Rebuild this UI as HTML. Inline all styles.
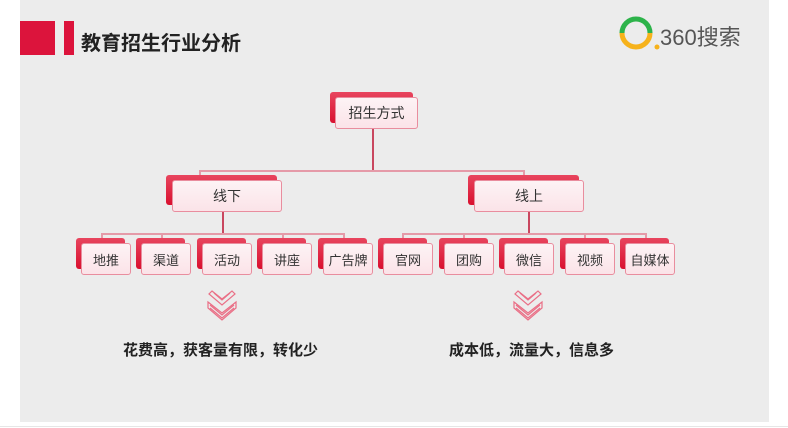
<!DOCTYPE html>
<html><head><meta charset="utf-8"><style>
*{margin:0;padding:0;box-sizing:border-box}
body{width:788px;height:428px;background:#fff;position:relative;overflow:hidden;font-family:"Liberation Sans","Noto Sans CJK SC",sans-serif}
.bg{position:absolute;left:20px;top:0;width:749px;height:422px;background:#ececec}
.a{position:absolute}
.sh{position:absolute;background:linear-gradient(#e8455e,#d9102f);border-radius:3px}
.fr{position:absolute;background:linear-gradient(#fdf3f5,#fbe3e8);border:1.5px solid #e98d9e;border-radius:3px;display:flex;align-items:center;justify-content:center;color:#333;font-size:13px}
.ln{position:absolute;background:#c9475f}
.ln2{position:absolute;background:#e59aa8}
.t{position:absolute;font-weight:bold;font-size:15px;color:#222;white-space:nowrap}
</style></head><body>
<div class="bg"></div>
<div class="a" style="left:20px;top:21px;width:35px;height:34px;background:#dc143c"></div>
<div class="a" style="left:64px;top:21px;width:10px;height:34px;background:#dc143c"></div>
<div class="a" style="left:81px;top:27px;font-size:20px;font-weight:bold;color:#222">教育招生行业分析</div>
<svg class="a" style="left:615px;top:14px" width="50" height="42"><path d="M7 19 A14 14 0 0 1 35 19" fill="none" stroke="#2db34a" stroke-width="5"/><path d="M7 19 A14 14 0 0 0 35 19" fill="none" stroke="#f6b21b" stroke-width="5"/><circle cx="42" cy="33" r="2.5" fill="#f6b21b"/></svg>
<div class="a" style="left:660px;top:20px;font-size:22px;color:#555">360搜索</div>

<div class="ln" style="left:372px;top:128px;width:1.5px;height:43px"></div>
<div class="ln2" style="left:199px;top:170px;width:325px;height:1.5px"></div>
<div class="ln2" style="left:199px;top:170px;width:1.5px;height:8px"></div>
<div class="ln2" style="left:523px;top:170px;width:1.5px;height:8px"></div>
<div class="ln" style="left:222px;top:211px;width:1.5px;height:23px"></div>
<div class="ln" style="left:528px;top:211px;width:1.5px;height:23px"></div>
<div class="ln2" style="left:101px;top:233px;width:243px;height:1.5px"></div>
<div class="ln2" style="left:402px;top:233px;width:244px;height:1.5px"></div>
<div class="ln2" style="left:101px;top:233px;width:1.5px;height:6px"></div>
<div class="ln2" style="left:161px;top:233px;width:1.5px;height:6px"></div>
<div class="ln2" style="left:282px;top:233px;width:1.5px;height:6px"></div>
<div class="ln2" style="left:343px;top:233px;width:1.5px;height:6px"></div>
<div class="ln2" style="left:402px;top:233px;width:1.5px;height:6px"></div>
<div class="ln2" style="left:463px;top:233px;width:1.5px;height:6px"></div>
<div class="ln2" style="left:584px;top:233px;width:1.5px;height:6px"></div>
<div class="ln2" style="left:645px;top:233px;width:1.5px;height:6px"></div>

<div class="sh" style="left:330px;top:92px;width:83px;height:31px"></div>
<div class="fr" style="left:335px;top:97px;width:83px;height:32px;font-size:14px">招生方式</div>

<div class="sh" style="left:166px;top:175px;width:111px;height:30px"></div>
<div class="fr" style="left:172px;top:180px;width:110px;height:32px;font-size:14px">线下</div>
<div class="sh" style="left:468px;top:175px;width:111px;height:30px"></div>
<div class="fr" style="left:474px;top:180px;width:110px;height:32px;font-size:14px">线上</div>

<div class="sh" style="left:76px;top:238px;width:49px;height:31px"></div><div class="fr" style="left:81px;top:243px;width:50px;height:32px">地推</div>
<div class="sh" style="left:136px;top:238px;width:49px;height:31px"></div><div class="fr" style="left:141px;top:243px;width:50px;height:32px">渠道</div>
<div class="sh" style="left:197px;top:238px;width:49px;height:31px"></div><div class="fr" style="left:202px;top:243px;width:50px;height:32px">活动</div>
<div class="sh" style="left:257px;top:238px;width:49px;height:31px"></div><div class="fr" style="left:262px;top:243px;width:50px;height:32px">讲座</div>
<div class="sh" style="left:318px;top:238px;width:49px;height:31px"></div><div class="fr" style="left:323px;top:243px;width:50px;height:32px">广告牌</div>
<div class="sh" style="left:378px;top:238px;width:49px;height:31px"></div><div class="fr" style="left:383px;top:243px;width:50px;height:32px">官网</div>
<div class="sh" style="left:439px;top:238px;width:49px;height:31px"></div><div class="fr" style="left:444px;top:243px;width:50px;height:32px">团购</div>
<div class="sh" style="left:499px;top:238px;width:49px;height:31px"></div><div class="fr" style="left:504px;top:243px;width:50px;height:32px">微信</div>
<div class="sh" style="left:560px;top:238px;width:49px;height:31px"></div><div class="fr" style="left:565px;top:243px;width:50px;height:32px">视频</div>
<div class="sh" style="left:620px;top:238px;width:49px;height:31px"></div><div class="fr" style="left:625px;top:243px;width:50px;height:32px">自媒体</div>

<svg class="a" style="left:207px;top:290px" width="31" height="32"><g fill="none" stroke="#ea6f86" stroke-width="1.2"><path d="M5 1 L15 9 L25 1 L28 4 L15 15 L2 4 Z"/><path d="M7 3 L15 10 L23 3"/><path d="M1 12 L15 23 L29 12 L29 18 L15 30 L1 18 Z"/><path d="M3 15 L15 25 L27 15"/><path d="M3 18 L15 28 L27 18"/></g></svg>
<svg class="a" style="left:513px;top:290px" width="31" height="32"><g fill="none" stroke="#ea6f86" stroke-width="1.2"><path d="M5 1 L15 9 L25 1 L28 4 L15 15 L2 4 Z"/><path d="M7 3 L15 10 L23 3"/><path d="M1 12 L15 23 L29 12 L29 18 L15 30 L1 18 Z"/><path d="M3 15 L15 25 L27 15"/><path d="M3 18 L15 28 L27 18"/></g></svg>

<div class="t" style="left:123px;top:339px">花费高，获客量有限，转化少</div>
<div class="t" style="left:449px;top:339px">成本低，流量大，信息多</div>
<div class="a" style="left:0;top:426px;width:788px;height:1px;background:#e6e6e6"></div>
</body></html>
